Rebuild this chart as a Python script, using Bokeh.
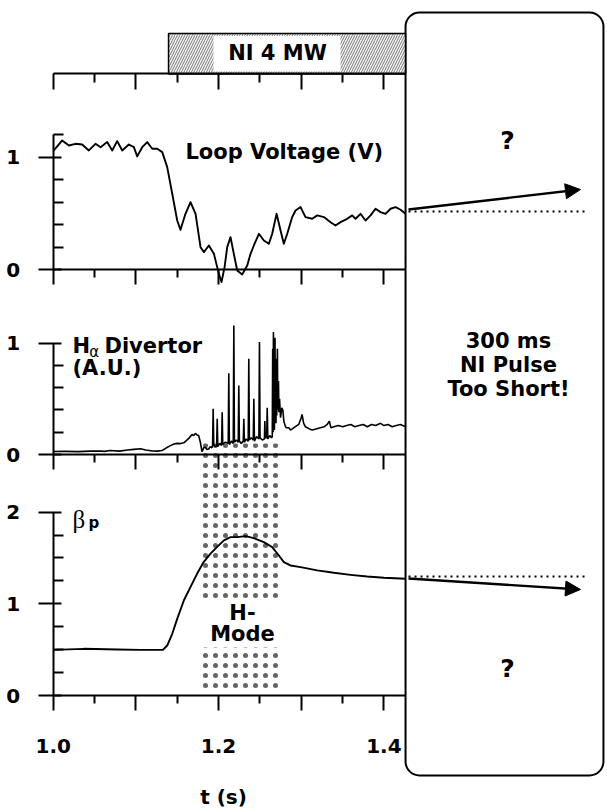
from bokeh.plotting import figure
from bokeh.models import (Range1d, LinearAxis, FixedTicker, BoxAnnotation,
                          Arrow, NormalHead, Label)
from bokeh.embed import file_html
from bokeh.resources import INLINE

# ---- measured traces (time in s) ----
volt_t = [1.0008, 1.0109, 1.019, 1.027, 1.035, 1.0431, 1.0512, 1.0573, 1.0653, 1.0714,
          1.0774, 1.0835, 1.0915, 1.0976, 1.1016, 1.1077, 1.1137, 1.1198, 1.1258, 1.1319,
          1.1379, 1.144, 1.15, 1.154, 1.16, 1.1661, 1.1722, 1.1782, 1.1823, 1.1883,
          1.1944, 1.2004, 1.2036, 1.2073, 1.2105, 1.2145, 1.2185, 1.2226, 1.2286, 1.2347,
          1.2387, 1.2427, 1.2488, 1.2548, 1.2609, 1.2649, 1.2702, 1.275, 1.279, 1.2831,
          1.2891, 1.2931, 1.2992, 1.3052, 1.3133, 1.3194, 1.3274, 1.3355, 1.3415, 1.3476,
          1.3556, 1.3617, 1.3657, 1.3718, 1.3778, 1.3839, 1.3899, 1.396, 1.402, 1.4081,
          1.4141, 1.4202, 1.4262]
volt_v = [1.06, 1.149, 1.104, 1.119, 1.113, 1.06, 1.119, 1.089, 1.134, 1.06,
          1.143, 1.06, 1.113, 1.089, 1.007, 1.089, 1.134, 1.075, 1.075, 1.045,
          0.912, 0.675, 0.438, 0.355, 0.497, 0.601, 0.497, 0.201, 0.157, 0.216,
          0.142, -0.036, -0.109, 0.024, 0.201, 0.29, 0.142, -0.006, -0.041, 0.038,
          0.142, 0.216, 0.32, 0.26, 0.231, 0.32, 0.497, 0.349, 0.231, 0.32,
          0.468, 0.527, 0.557, 0.468, 0.453, 0.483, 0.468, 0.423, 0.394, 0.423,
          0.453, 0.483, 0.453, 0.497, 0.438, 0.483, 0.542, 0.512, 0.497, 0.542,
          0.557, 0.533, 0.497]

ha_t = [1.000, 1.015, 1.030, 1.045, 1.057, 1.062, 1.069, 1.080, 1.090, 1.0975,
        1.1055, 1.112, 1.120, 1.1258, 1.1318, 1.137, 1.1419, 1.146, 1.150, 1.154,
        1.158, 1.161, 1.164, 1.168, 1.170, 1.172, 1.174, 1.176, 1.178, 1.180,
        1.182, 1.184, 1.186, 1.188, 1.190, 1.192,
        1.1928, 1.1935, 1.1942, 1.1962, 1.1977, 1.1984, 1.1991, 1.2015,
        1.2037, 1.2044, 1.2051, 1.2080, 1.2117, 1.2124, 1.2131, 1.2155,
        1.2178, 1.2185, 1.2192, 1.2215, 1.2238, 1.2245, 1.2252, 1.2275,
        1.2299, 1.2306, 1.2313, 1.2335, 1.2359, 1.2366, 1.2373, 1.2395,
        1.2420, 1.2427, 1.2434, 1.2460, 1.2488, 1.2495, 1.2502, 1.2530,
        1.2555, 1.2560, 1.2565, 1.2582, 1.2589, 1.2596, 1.2620, 1.2640,
        1.2650, 1.2655, 1.2660, 1.2664, 1.2668, 1.2672, 1.2676, 1.2680,
        1.2683, 1.2687, 1.2691, 1.2695, 1.2700, 1.2704, 1.2708, 1.2712,
        1.2716, 1.2720, 1.2725, 1.2730, 1.2738, 1.2750, 1.2765, 1.2778,
        1.2790, 1.2805, 1.2820, 1.2850, 1.2870, 1.2891, 1.2930, 1.2970,
        1.3000, 1.3010, 1.3030, 1.3050, 1.3100, 1.3133, 1.3180, 1.3230,
        1.3280, 1.3315, 1.3340, 1.3360, 1.3395, 1.3450, 1.3500, 1.3550,
        1.3600, 1.3650, 1.3700, 1.3750, 1.3800, 1.3850, 1.3900, 1.3960,
        1.4000, 1.4050, 1.4100, 1.4150, 1.4200, 1.4262]
ha_v = [0.027, 0.028, 0.026, 0.030, 0.032, 0.028, 0.036, 0.030, 0.040, 0.046,
        0.052, 0.040, 0.032, 0.030, 0.036, 0.060, 0.080, 0.095, 0.100, 0.098,
        0.105, 0.125, 0.145, 0.180, 0.170, 0.190, 0.175, 0.170, 0.110, 0.025,
        0.060, 0.065, 0.045, 0.050, 0.070, 0.060,
        0.08, 0.41, 0.09, 0.07, 0.08, 0.32, 0.07, 0.10,
        0.08, 0.38, 0.09, 0.11, 0.10, 0.73, 0.09, 0.12,
        0.10, 1.16, 0.11, 0.13, 0.11, 0.62, 0.12, 0.10,
        0.12, 0.32, 0.11, 0.14, 0.12, 0.86, 0.13, 0.15,
        0.13, 0.50, 0.12, 0.16, 0.14, 1.01, 0.15, 0.13,
        0.14, 0.30, 0.15, 0.15, 0.42, 0.14, 0.17, 0.15,
        0.16, 0.95, 0.20, 1.10, 0.25, 0.80, 0.22, 0.90,
        1.05, 0.30, 0.70, 0.28, 0.86, 0.35, 0.60, 0.95,
        0.40, 0.55, 0.66, 0.38, 0.50, 0.33, 0.42, 0.40,
        0.30, 0.26, 0.24, 0.24, 0.22, 0.23, 0.25, 0.27,
        0.33, 0.36, 0.28, 0.25, 0.23, 0.22, 0.23, 0.24,
        0.25, 0.27, 0.30, 0.24, 0.25, 0.26, 0.25, 0.26,
        0.27, 0.25, 0.26, 0.27, 0.25, 0.27, 0.26, 0.28,
        0.26, 0.27, 0.25, 0.26, 0.27, 0.25]

bp_t = [1.0008, 1.0371, 1.0774, 1.1056, 1.1327, 1.1379, 1.144, 1.15, 1.158, 1.166,
        1.174, 1.182, 1.190, 1.198, 1.2065, 1.2145, 1.2226, 1.2327, 1.2427, 1.2548,
        1.2649, 1.273, 1.279, 1.287, 1.2992, 1.3194, 1.3395, 1.3597, 1.3798, 1.4,
        1.4262]
bp_v = [0.498, 0.509, 0.502, 0.498, 0.498, 0.545, 0.673, 0.836, 1.036, 1.182,
        1.327, 1.455, 1.545, 1.618, 1.691, 1.727, 1.727, 1.738, 1.716, 1.673,
        1.618, 1.527, 1.455, 1.418, 1.4, 1.364, 1.338, 1.316, 1.298, 1.284,
        1.273]

# heating and confinement phases
ni_start = 1.1395
ni_end = 1.4262
ni_label = "NI 4 MW"
hmode_start = 1.1782
hmode_end = 1.2725

# extrapolation beyond the end of the NI pulse
volt_level = 0.518
volt_trend = [0.536, 0.713]
bp_level = 1.298
bp_trend = [1.276, 1.156]

# axis ticks
t_major = [1.0, 1.1, 1.2, 1.3, 1.4]
t_minor = [1.05, 1.15, 1.25, 1.35]
t_labels = {1.0: "1.0", 1.1: "", 1.2: "1.2", 1.3: "", 1.4: "1.4"}
volt_major, volt_minor = [0, 1], [0.2, 0.4, 0.6, 0.8, 1.2]
ha_major, ha_minor = [0, 1], [0.2, 0.4, 0.6, 0.8]
bp_major, bp_minor = [0, 1, 2], [0.25, 0.5, 0.75, 1.25, 1.5, 1.75]

# ---- page geometry ----
W, H = 607, 810
T0_PX, PX_PER_S = 52.7, 826.7


def stacked_range(zero_px, px_per_unit):
    end = zero_px / px_per_unit
    return Range1d(end - H / px_per_unit, end)


FONT = "DejaVu Sans"
p = figure(width=W, height=H, output_backend="svg", toolbar_location=None,
           x_range=Range1d(1.0 - T0_PX / PX_PER_S, 1.0 + (W - T0_PX) / PX_PER_S),
           y_range=stacked_range(695, 91.7),
           x_axis_location=None, y_axis_location=None, min_border=0,
           outline_line_color=None, background_fill_color="white",
           border_fill_color="white")
p.extra_y_ranges = {"v": stacked_range(269.3, 112.6), "h": stacked_range(454, 111.3)}
p.grid.visible = False

# callout box on the right
box_left, box_right = 1.4262, 1.6656
p.add_layout(BoxAnnotation(left=box_left, right=box_right, top=7.448, bottom=-0.872,
                           border_radius=14, fill_color="white", fill_alpha=1.0,
                           line_color="black", line_alpha=1.0, line_width=2,
                           level="underlay"))

# H-mode phase (dotted band with a gap for its caption)
p.quad(left=[hmode_start, hmode_start], right=[hmode_end, hmode_end],
       bottom=[1.047, 0.03], top=[2.748, 0.523],
       fill_color=None, line_color=None, hatch_pattern="dot",
       hatch_color="#222222", hatch_alpha=0.7, hatch_scale=10, hatch_weight=0.2)

# NI heating bar
p.quad(left=[ni_start], right=[ni_end], bottom=[1.739], top=[2.098], y_range_name="v",
       fill_color="#f4f4f4", line_color="black", line_width=1.5,
       hatch_pattern="right_diagonal_line", hatch_color="#6a6a6a",
       hatch_scale=5, hatch_weight=0.9)
p.quad(left=[1.1939], right=[1.3475], bottom=[1.761], top=[2.076], y_range_name="v",
       fill_color="white", line_color=None)

# traces
p.line(volt_t, volt_v, y_range_name="v", line_color="black", line_width=1.9,
       line_join="round")
p.line(ha_t, ha_v, y_range_name="h", line_color="black", line_width=1.6)
p.line(bp_t, bp_v, line_color="black", line_width=1.9, line_join="round")

# extrapolation lines
x_dot = [1.4298, 1.6475]
p.line(x_dot, [volt_level, volt_level], y_range_name="v", line_color="black",
       line_width=2, line_dash="2 4")
p.line(x_dot, [bp_level, bp_level], line_color="black", line_width=2, line_dash="2 4")
x_arrow = [1.4298, 1.6378]
p.add_layout(Arrow(x_start=x_arrow[0], y_start=volt_trend[0], x_end=x_arrow[1],
                   y_end=volt_trend[1], y_range_name="v", line_width=2.4,
                   end=NormalHead(size=15, fill_color="black", line_color="black")))
p.add_layout(Arrow(x_start=x_arrow[0], y_start=bp_trend[0], x_end=x_arrow[1],
                   y_end=bp_trend[1], line_width=2.4,
                   end=NormalHead(size=15, fill_color="black", line_color="black")))


def style(ax):
    ax.axis_line_width = 2
    ax.major_tick_line_width = 2
    ax.minor_tick_line_width = 2
    ax.major_label_text_font = FONT
    ax.major_label_text_font_style = "bold"
    ax.major_label_text_font_size = "20px"
    ax.major_label_text_color = "black"
    return ax


# y axes of the three panels
for rname, major, minor, top in [("v", volt_major, volt_minor, 1.2),
                                 ("h", ha_major, ha_minor, 1.0),
                                 ("default", bp_major, bp_minor, 2.0)]:
    ax = style(LinearAxis(y_range_name=rname, fixed_location=1.0, bounds=(0, top),
                          ticker=FixedTicker(ticks=major, minor_ticks=minor)))
    ax.major_tick_in, ax.major_tick_out = 8, 15
    ax.minor_tick_in, ax.minor_tick_out = 10, 0
    ax.major_label_standoff = 18
    p.add_layout(ax, "left")

# time axes of the three panels
for rname, labelled in [("v", False), ("h", False), ("default", True)]:
    ax = style(LinearAxis(y_range_name=rname, fixed_location=0, bounds=(1.0, box_left),
                          ticker=FixedTicker(ticks=t_major, minor_ticks=t_minor)))
    ax.major_tick_in, ax.major_tick_out = 0, 15
    ax.minor_tick_in, ax.minor_tick_out = 0, 8
    if labelled:
        ax.major_label_overrides = t_labels
        ax.major_label_standoff = 28
    else:
        ax.major_label_text_color = None
    p.add_layout(ax, "below")

# time axis above the top panel (under the NI bar)
ax = style(LinearAxis(y_range_name="v", fixed_location=1.739, bounds=(1.0, box_left),
                      ticker=FixedTicker(ticks=t_major, minor_ticks=t_minor)))
ax.major_tick_in, ax.major_tick_out = 16, 0
ax.minor_tick_in, ax.minor_tick_out = 9, 0
ax.major_label_text_color = None
p.add_layout(ax, "above")


def label(x, y, text, size="21px", align="left", rname="default",
          style_="bold", font=FONT, **kw):
    p.add_layout(Label(x=x, y=y, text=text, y_range_name=rname, text_align=align,
                       text_baseline="middle", text_font=font,
                       text_font_style=style_, text_font_size=size,
                       text_color="black", **kw))


label(1.2713, 1.921, ni_label, rname="v", align="center")
label(1.1600, 1.042, "Loop Voltage (V)", rname="v")
label(1.0233, 0.979, "H", rname="h")
label(1.0437, 0.925, "α", size="15px", rname="h", style_="normal")
label(1.0620, 0.979, "Divertor", rname="h")
label(1.0233, 0.773, "(A.U.)", rname="h")
label(1.0233, 1.919, "β", size="25px", style_="normal", font="Liberation Serif")
label(1.0427, 1.876, "p", size="15px")
label(1.2290, 0.905, "H-", align="center")
label(1.2290, 0.676, "Mode", align="center")
label(1.2060, -1.112, "t (s)", size="20px", align="center")
label(1.5495, 1.148, "?", size="25px", rname="v", align="center")
label(1.5495, 0.294, "?", size="25px", align="center")
label(1.5507, 0.804, "300 ms\nNI Pulse\nToo Short!", rname="h", align="center",
      text_line_height=0.98)

open("out.html", "w").write(file_html(p, INLINE))
